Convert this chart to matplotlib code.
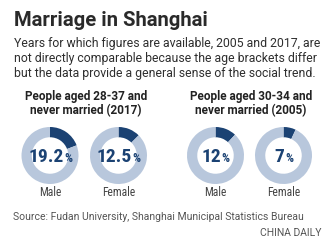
import matplotlib
matplotlib.use("Agg")
import matplotlib.pyplot as plt
from matplotlib import font_manager

# data
groups = ["People aged 28-37 and\nnever married (2017)",
          "People aged 30-34 and\nnever married (2005)"]
labels = ["Male", "Female", "Male", "Female"]
values = [19.2, 12.5, 12, 7]
value_text = ["19.2", "12.5", "12", "7"]

title = "Marriage in Shanghai"
subtitle = ["Years for which figures are available, 2005 and 2017, are",
            "not directly comparable because the age brackets differ",
            "but the data provide a general sense of the social trend."]
source = "Source: Fudan University, Shanghai Municipal Statistics Bureau"
credit = "CHINA DAILY"

names = {f.name for f in font_manager.fontManager.ttflist}
def pick(*cands):
    for c in cands:
        if c in names:
            return c
    return "DejaVu Sans"

narrow = pick("Liberation Sans Narrow", "Roboto Condensed", "Roboto")
body = pick("Roboto", "Open Sans", "DejaVu Sans")
bold = pick("Roboto", "Open Sans", "DejaVu Sans")

dark = "#1b4273"
light = "#b8c7dc"
W, H = 335, 247

fig = plt.figure(figsize=(W / 100, H / 100), dpi=100)
fig.patch.set_facecolor("white")

def px(x, y):
    return x / W, 1 - y / H

fig.text(*px(14, 21), title, fontsize=14.6, fontweight="bold", family=bold,
         color="#2a2a2a", va="center", ha="left")
for i, line in enumerate(subtitle):
    fig.text(*px(14, 43 + i * 15.5), line, fontsize=8.85, family=body,
             color="#2e2e2e", va="center", ha="left")

head_x = [86, 251]
for gx, g in zip(head_x, groups):
    fig.text(*px(gx, 103.5), g, fontsize=8.5, fontweight="bold", family=bold,
             color="#222222", va="center", ha="center", linespacing=1.05)

cx = [50, 118.5, 215.5, 283.5]
cy = 155.5
r = 28.5
renderer = fig.canvas.get_renderer()
for x, lab, v, vt in zip(cx, labels, values, value_text):
    ax = fig.add_axes([(x - r) / W, 1 - (cy + r) / H, 2 * r / W, 2 * r / H])
    ax.pie([v, 100 - v], colors=[dark, light], startangle=90, counterclock=False,
           wedgeprops=dict(width=0.36, linewidth=0))
    ax.set_xlim(-1, 1)
    ax.set_ylim(-1, 1)
    ax.set_aspect("equal")
    ax.axis("off")

    # number + smaller percent sign, centred as one unit
    t1 = fig.text(0, 0, vt, fontsize=14, family=narrow, fontweight="bold",
                  color=dark, va="baseline", ha="left")
    t2 = fig.text(0, 0, "%", fontsize=9, family=narrow, fontweight="bold",
                  color=dark, va="baseline", ha="left")
    w1 = t1.get_window_extent(renderer).width
    w2 = t2.get_window_extent(renderer).width
    x0 = x - (w1 + w2) / 2
    t1.set_position(px(x0, 162))
    t2.set_position(px(x0 + w1 + 0.5, 162))

    fig.text(*px(x, 192), lab, fontsize=8.4, family=narrow, color="#444444",
             va="center", ha="center")

fig.text(*px(13, 217), source, fontsize=7.5, family=body, color="#555555",
         va="center", ha="left")
fig.text(*px(322, 233), credit, fontsize=7.5, family=body, color="#555555",
         va="center", ha="right")

fig.savefig("out.png", dpi=100)
